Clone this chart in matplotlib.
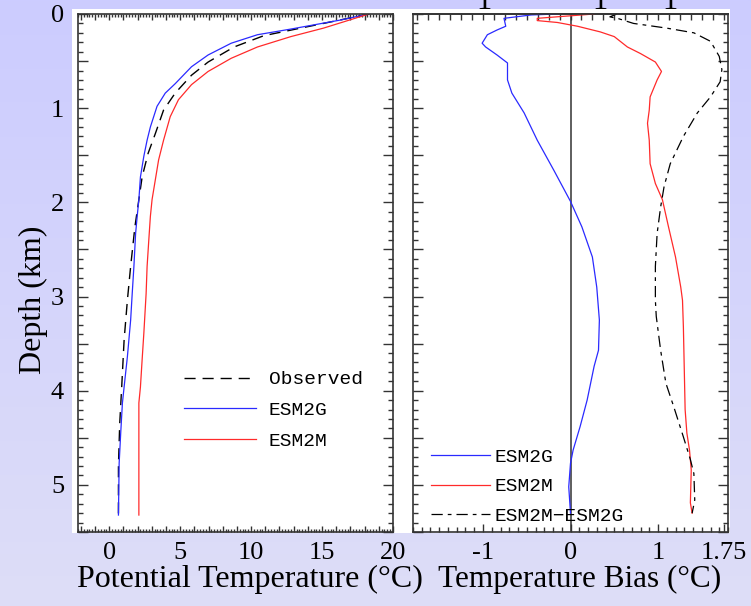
import matplotlib
matplotlib.use('Agg')
import matplotlib.pyplot as plt
import numpy as np
from matplotlib.patches import Rectangle
from matplotlib.ticker import MultipleLocator, FixedLocator, FuncFormatter

# left panel: potential temperature profiles (degC vs km)
obs_depth = [0, 0.1, 0.23, 0.35, 0.51, 0.65, 0.84, 1.02, 1.27, 1.48, 1.73, 1.97,
             2.26, 2.68, 3.04, 3.46, 3.96, 4.35, 4.8, 5.32]
obs_temp = [18.3, 15.1, 10.9, 8.8, 6.97, 5.8, 4.65, 3.83, 3.25, 2.74, 2.32, 2.09,
            1.81, 1.51, 1.28, 1.05, 0.88, 0.74, 0.65, 0.65]

g_depth = [0, 0.064, 0.16, 0.22, 0.31, 0.435, 0.56, 0.74, 0.84, 0.98, 1.2, 1.34,
           1.51, 1.73, 1.97, 2.15, 2.33, 2.68, 2.97, 3.25, 3.64, 3.96, 4.13, 4.45,
           4.77, 5.32]
g_temp = [18.3, 16.3, 12.8, 10.45, 8.6, 6.97, 5.8, 4.65, 3.95, 3.37, 2.9, 2.67,
          2.44, 2.2, 2.09, 1.97, 1.86, 1.74, 1.62, 1.51, 1.28, 1.05, 0.93, 0.81,
          0.70, 0.65]

m_depth = [0, 0.15, 0.24, 0.35, 0.47, 0.61, 0.75, 0.91, 1.09, 1.34, 1.55, 1.76,
           1.97, 2.15, 2.4, 2.68, 2.97, 3.39, 3.67, 3.96, 4.13, 5.32]
m_temp = [18.3, 15.1, 12.8, 10.45, 8.6, 6.97, 5.8, 4.88, 4.3, 3.83, 3.48, 3.25,
          3.02, 2.9, 2.79, 2.67, 2.6, 2.44, 2.32, 2.2, 2.09, 2.09]

# right panel: temperature bias
gb_depth = [0, 0.01, 0.046, 0.13, 0.17, 0.22, 0.31, 0.35, 0.435, 0.52, 0.70, 0.84,
            1.05, 1.34, 1.66, 1.99, 2.26, 2.58, 2.9, 3.25, 3.57, 3.74, 4.1, 4.38,
            4.63, 4.77, 5.02, 5.3]
gb_bias = [-0.15, -0.45, -0.76, -0.74, -0.84, -0.95, -1.01, -0.97, -0.84, -0.72,
           -0.72, -0.67, -0.53, -0.38, -0.19, 0.0, 0.13, 0.25, 0.30, 0.33, 0.32,
           0.27, 0.19, 0.11, 0.03, 0.0, -0.02, 0.0]

mb_depth = [0, 0.046, 0.07, 0.09, 0.13, 0.19, 0.24, 0.35, 0.42, 0.51, 0.61, 0.70,
            0.88, 1.02, 1.16, 1.34, 1.59, 1.80, 1.97, 2.26, 2.58, 2.9, 3.04, 3.32,
            4.2, 4.45, 4.63, 4.84, 5.19, 5.3]
mb_bias = [0.27, -0.38, -0.38, -0.15, 0.08, 0.34, 0.50, 0.65, 0.80, 0.97, 1.04,
           0.99, 0.91, 0.90, 0.88, 0.90, 0.91, 0.97, 1.05, 1.12, 1.20, 1.26, 1.28,
           1.29, 1.31, 1.33, 1.36, 1.38, 1.37, 1.39]

d_depth = [0, 0.03, 0.05, 0.1, 0.15, 0.2, 0.29, 0.45, 0.59, 0.72, 0.88, 1.05,
           1.30, 1.59, 1.83, 2.05, 2.33, 2.68, 3.04, 3.21, 3.57, 3.92, 4.17, 4.49,
           4.73, 4.88, 5.16, 5.3]
d_bias = [0.53, 0.45, 0.55, 0.72, 1.10, 1.41, 1.60, 1.70, 1.73, 1.71, 1.60, 1.45,
          1.29, 1.14, 1.07, 1.03, 0.99, 0.97, 0.97, 0.98, 1.03, 1.09, 1.18, 1.29,
          1.37, 1.41, 1.42, 1.39]

temp_ticks = [0, 5, 10, 15, 20]
bias_ticks = [-1, 0, 1, 1.75]
bias_labels = ['-1', '0', '1', '1.75']
depth_labels = [0, 1, 2, 3, 4, 5]

serif = 'Liberation Serif'
mono = 'Liberation Mono'
frame = '#333333'

fig = plt.figure(figsize=(7.51, 6.06), dpi=100)

# lavender gradient background
bg = fig.add_axes([0, 0, 1, 1], zorder=-10)
grad = np.linspace(0, 1, 256).reshape(-1, 1)
top = np.array([0.80, 0.80, 1.0])
bot = np.array([0.87, 0.87, 0.97])
img = top + (bot - top) * grad[:, :, None]
bg.imshow(img, aspect='auto', extent=[0, 1, 0, 1])
bg.axis('off')
fig.patches.append(Rectangle((72 / 751, 73 / 606), 658 / 751, 524 / 606,
                             transform=fig.transFigure, facecolor='white',
                             edgecolor='none', zorder=-5))

ax1 = fig.add_axes([78 / 751, 74 / 606, 315 / 751, 518 / 606])
ax2 = fig.add_axes([413 / 751, 74 / 606, 315 / 751, 518 / 606])

ax1.plot(obs_temp, obs_depth, color='black', lw=1.0, dashes=(8, 5), label='Observed')
ax1.plot(g_temp, g_depth, color='#2a2aff', lw=0.9, label='ESM2G')
ax1.plot(m_temp, m_depth, color='#ff2a2a', lw=0.9, label='ESM2M')

ax2.axvline(0, color='#333333', lw=1.1)
ax2.plot(gb_bias, gb_depth, color='#2a2aff', lw=0.9, label='ESM2G')
ax2.plot(mb_bias, mb_depth, color='#ff2a2a', lw=0.9, label='ESM2M')
ax2.plot(d_bias, d_depth, color='black', lw=0.9, dashes=(9, 4, 3, 4),
         label='ESM2M\u2212ESM2G')

for ax in (ax1, ax2):
    ax.set_ylim(5.5, 0)
    for s in ax.spines.values():
        s.set_color(frame)
        s.set_linewidth(1.2)
    ax.yaxis.set_major_locator(FixedLocator(np.arange(0, 5.51, 0.5)))
    ax.yaxis.set_minor_locator(MultipleLocator(0.1))
    ax.tick_params(axis='both', which='both', direction='in', color=frame,
                   top=True, right=True, width=1.0)
    ax.tick_params(axis='y', which='major', length=7)
    ax.tick_params(axis='y', which='minor', length=3.5)

ax1.set_xlim(-2.2, 20)
ax1.xaxis.set_major_locator(MultipleLocator(1))
ax1.xaxis.set_minor_locator(MultipleLocator(0.2))
ax1.xaxis.set_major_formatter(FuncFormatter(
    lambda v, p: '%d' % round(v) if round(v) in temp_ticks and abs(v - round(v)) < 1e-6 else ''))
ax1.tick_params(axis='x', which='major', length=4.5)
ax1.tick_params(axis='x', which='minor', length=2.5)
ax1.yaxis.set_major_formatter(FuncFormatter(
    lambda v, p: '%d' % round(v) if abs(v - round(v)) < 1e-6 and round(v) in depth_labels else ''))
ax1.tick_params(axis='y', labelsize=19, pad=10)
ax1.tick_params(axis='x', labelsize=19, pad=7)
for lab in ax1.get_xticklabels() + ax1.get_yticklabels():
    lab.set_fontfamily(serif)

ax2.set_xlim(-1.8, 1.8)
ax2.set_xticks(bias_ticks)
ax2.set_xticklabels(bias_labels)
ax2.xaxis.set_minor_locator(MultipleLocator(0.1))
ax2.tick_params(axis='x', which='both', top=False)
ax2.tick_params(axis='x', which='major', length=6, labelsize=19, pad=7)
ax2.tick_params(axis='x', which='minor', length=3.5)
ax2.set_yticklabels([])
for lab in ax2.get_xticklabels():
    lab.set_fontfamily(serif)
sec = ax2.secondary_xaxis('top')
sec.xaxis.set_major_locator(MultipleLocator(0.125))
sec.tick_params(direction='in', length=4, color=frame, width=1.0, labeltop=False)
sec.spines['top'].set_color(frame)
sec.spines['top'].set_linewidth(1.2)

ax1.set_xlabel('Potential Temperature (\u00b0C)', fontsize=23, family=serif)
ax2.set_xlabel('Temperature Bias (\u00b0C)', fontsize=22.5, family=serif)
ax1.set_ylabel('Depth (km)', fontsize=23, family=serif)
ax1.xaxis.set_label_coords(0.546, -0.064)
ax2.xaxis.set_label_coords(0.53, -0.064)
ax1.yaxis.set_label_coords(-0.095, 0.448)

ax1.legend(loc='upper left', bbox_to_anchor=(0.282, 0.345), frameon=False,
           prop={'family': mono, 'size': 14}, handlelength=3.7,
           handletextpad=0.65, labelspacing=0.68)
ax2.legend(loc='upper left', bbox_to_anchor=(0.0, 0.195), frameon=False,
           prop={'family': mono, 'size': 14}, handlelength=3.05,
           handletextpad=0.25, labelspacing=0.6)

# clipped fragments of text from above the cropped image
for xp in (484, 600, 670):
    fig.text(xp / 751, 1 - 9 / 606, '1', ha='center', va='baseline',
             fontsize=22, family=serif)

fig.savefig('out.png', dpi=100)
